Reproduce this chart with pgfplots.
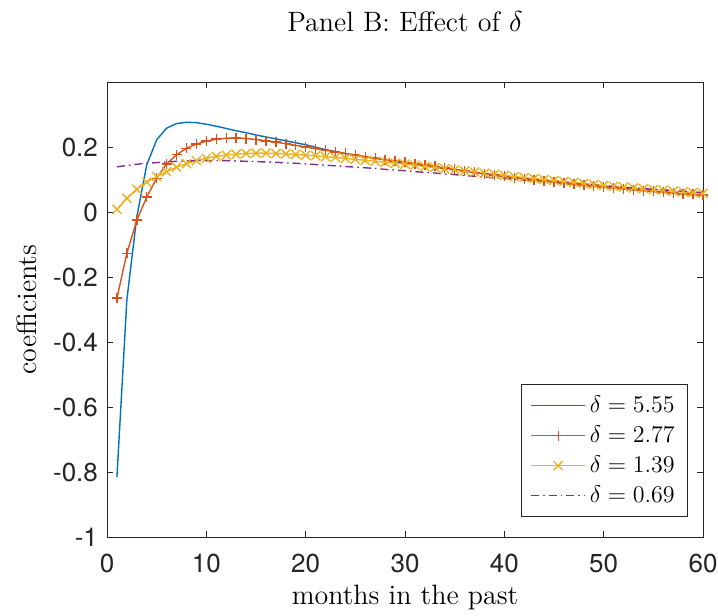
\documentclass[border=0pt]{standalone}
\usepackage{pgfplots}
\pgfplotsset{compat=1.18}
\usepackage{pgfplotstable}
\usepackage{fontspec}
\usetikzlibrary{calc}
\newfontfamily\helv{TeX Gyre Heros}

\definecolor{axgray}{rgb}{0.15,0.15,0.15}
\definecolor{mblue}{rgb}{0,0.447,0.741}
\definecolor{mred}{rgb}{0.85,0.325,0.098}
\definecolor{myellow}{rgb}{0.929,0.694,0.125}
\definecolor{mpurple}{rgb}{0.494,0.184,0.556}

% lag, delta=5.55, 2.77, 1.39, 0.69
\pgfplotstableread{
m a b c d
1 -0.815 -0.265 0.008 0.139
2 -0.270 -0.127 0.042 0.143
3 -0.015 -0.025 0.070 0.147
4 0.145 0.046 0.092 0.150
5 0.222 0.104 0.109 0.152
6 0.258 0.148 0.124 0.154
7 0.272 0.176 0.138 0.156
8 0.276 0.196 0.149 0.157
9 0.275 0.209 0.158 0.158
10 0.270 0.218 0.165 0.158
11 0.264 0.224 0.171 0.158
12 0.257 0.227 0.175 0.158
13 0.250 0.228 0.178 0.157
14 0.244 0.226 0.180 0.156
15 0.237 0.223 0.181 0.155
16 0.231 0.219 0.181 0.154
17 0.225 0.215 0.180 0.153
18 0.219 0.210 0.179 0.151
19 0.213 0.205 0.177 0.150
20 0.207 0.200 0.175 0.148
21 0.199 0.195 0.173 0.146
22 0.192 0.190 0.170 0.144
23 0.186 0.185 0.168 0.142
24 0.180 0.180 0.165 0.140
25 0.175 0.175 0.162 0.138
26 0.170 0.170 0.159 0.136
27 0.165 0.166 0.156 0.134
28 0.160 0.161 0.153 0.131
29 0.155 0.157 0.150 0.129
30 0.151 0.153 0.147 0.127
31 0.146 0.149 0.144 0.124
32 0.142 0.144 0.140 0.122
33 0.137 0.140 0.137 0.120
34 0.133 0.135 0.133 0.117
35 0.129 0.131 0.130 0.115
36 0.125 0.127 0.126 0.112
37 0.121 0.122 0.123 0.110
38 0.117 0.118 0.119 0.108
39 0.113 0.114 0.116 0.105
40 0.109 0.110 0.113 0.103
41 0.105 0.106 0.109 0.101
42 0.102 0.103 0.106 0.098
43 0.098 0.099 0.103 0.096
44 0.095 0.096 0.100 0.094
45 0.092 0.093 0.097 0.091
46 0.088 0.089 0.094 0.089
47 0.085 0.086 0.091 0.087
48 0.082 0.083 0.088 0.085
49 0.079 0.080 0.085 0.083
50 0.076 0.077 0.082 0.080
51 0.073 0.074 0.079 0.078
52 0.071 0.072 0.077 0.076
53 0.068 0.069 0.074 0.074
54 0.066 0.066 0.072 0.072
55 0.063 0.064 0.069 0.070
56 0.061 0.061 0.067 0.068
57 0.058 0.059 0.064 0.066
58 0.056 0.056 0.062 0.064
59 0.054 0.054 0.060 0.062
60 0.052 0.052 0.057 0.060
}\coef

\begin{document}
\begin{tikzpicture}
\begin{axis}[
    scale only axis, width=298pt, height=227.5pt,
    xmin=0, xmax=60, ymin=-1, ymax=0.4,
    xtick={0,10,...,60},
    ytick={-1,-0.8,-0.6,-0.4,-0.2,0,0.2},
    tick align=inside, major tick length=3pt,
    axis line style={draw=axgray, line width=0.4pt},
    tick style={draw=axgray, line width=0.4pt},
    tick label style={font=\helv\fontsize{13}{15}\selectfont, text=axgray},
    /pgf/number format/assume math mode=true,
    /pgf/number format/fixed,
    xticklabel style={yshift=-5pt},
    yticklabel style={xshift=-1pt},
    title={Panel B: Effect of $\delta$},
    title style={at={(axis description cs:0.5,1)}, anchor=base, yshift=19pt,
        font=\fontsize{14}{16}\selectfont},
    xlabel={months in the past},
    xlabel style={at={(axis description cs:0.5,0)}, anchor=base, yshift=-33.5pt,
        font=\fontsize{14}{16}\selectfont},
    ylabel={coefficients},
    ylabel style={at={($(axis description cs:0,0.5)+(-35pt,0)$)}, anchor=base,
        font=\fontsize{14}{16}\selectfont},
    legend style={at={(axis description cs:1,0)}, anchor=south east,
        xshift=-7.5pt, yshift=10pt, draw=axgray, line width=0.4pt,
        font=\fontsize{12.5}{14}\selectfont, inner xsep=4.5pt, inner ysep=3.5pt,
        row sep=1.2pt},
    legend cell align=left,
    legend image code/.code={%
        \draw[#1] (0pt,0pt) -- (27pt,0pt);
        \draw[#1, only marks] plot coordinates {(13.5pt,0pt)};},
]
\coordinate (sw) at (rel axis cs:0,0);
\coordinate (ne) at (rel axis cs:1,1);
\addplot[mblue, line width=0.7pt] table[x=m, y=a] {\coef};
\addplot[mred, line width=0.7pt, mark=+, mark size=2.5pt, mark options={solid}] table[x=m, y=b] {\coef};
\addplot[myellow, line width=0.7pt, mark=x, mark size=3.2pt, mark options={solid}] table[x=m, y=c] {\coef};
\addplot[mpurple, line width=0.7pt, dash pattern=on 4pt off 2pt on 0.8pt off 2pt] table[x=m, y=d] {\coef};
\legend{$\delta = 5.55$, $\delta = 2.77$, $\delta = 1.39$, $\delta = 0.69$}
\end{axis}
\pgfresetboundingbox
\path[use as bounding box] ([shift={(-53.5pt,-39pt)}]sw) rectangle ([shift={(7.5pt,41pt)}]ne);
\end{tikzpicture}
\end{document}
